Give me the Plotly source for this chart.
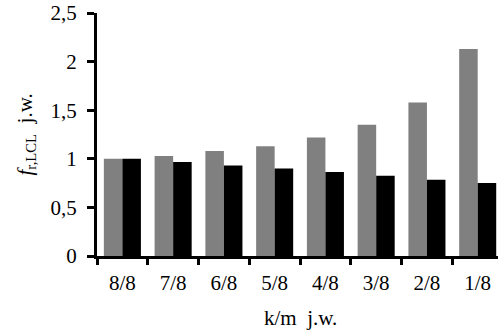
import plotly.graph_objects as go

categories = ["8/8", "7/8", "6/8", "5/8", "4/8", "3/8", "2/8", "1/8"]
gray_values = [1.0, 1.03, 1.08, 1.13, 1.22, 1.35, 1.58, 2.13]
black_values = [1.0, 0.966, 0.93, 0.90, 0.863, 0.825, 0.785, 0.75]
y_tickvals = [0, 0.5, 1, 1.5, 2, 2.5]
y_ticktext = ["0", "0,5", "1", "1,5", "2", "2,5"]

FONT = "Times New Roman, Liberation Serif, serif"

fig = go.Figure()
fig.add_trace(go.Bar(x=categories, y=gray_values, marker=dict(color="#808080", line=dict(width=0)), showlegend=False))
fig.add_trace(go.Bar(x=categories, y=black_values, marker=dict(color="#000000", line=dict(width=0)), showlegend=False))

fig.update_layout(
    width=498, height=332,
    margin=dict(l=97, r=0, t=13, b=76),
    paper_bgcolor="white", plot_bgcolor="white",
    barmode="group", bargap=0.27, bargroupgap=0,
    font=dict(family=FONT, size=21, color="black"),
    xaxis=dict(
        type="category", range=[-0.5, 7.4],
        showline=True, linewidth=3, linecolor="black",
        ticks="outside", tickson="boundaries", ticklen=6, tickwidth=3, tickcolor="black",
        showgrid=False, zeroline=False,
        tickfont=dict(family=FONT, size=21, color="black"),
        ticklabelstandoff=6,
    ),
    yaxis=dict(
        range=[0, 2.5], tickvals=y_tickvals, ticktext=y_ticktext,
        showline=True, linewidth=3, linecolor="black",
        ticks="outside", ticklen=7, tickwidth=3, tickcolor="black",
        showgrid=False, zeroline=False,
        tickfont=dict(family=FONT, size=21, color="black"),
        ticklabelstandoff=6,
    ),
    annotations=[
        dict(text="k/m\u00a0\u00a0j.w.", xref="paper", yref="paper", x=0.5, y=0,
             xshift=3, yshift=-62, xanchor="center", yanchor="middle",
             showarrow=False, font=dict(family=FONT, size=21, color="black")),
        dict(text="<i>f</i><sub>r,LCL</sub>\u00a0\u00a0j.w.", xref="paper", yref="paper", x=0, y=0.5,
             xshift=-72, xanchor="center", yanchor="middle", textangle=-90,
             showarrow=False, font=dict(family=FONT, size=21, color="black")),
    ],
)

fig.write_html("out.html", config={"displayModeBar": False},
               post_script="document.body.style.margin='0';document.body.style.padding='0';")
